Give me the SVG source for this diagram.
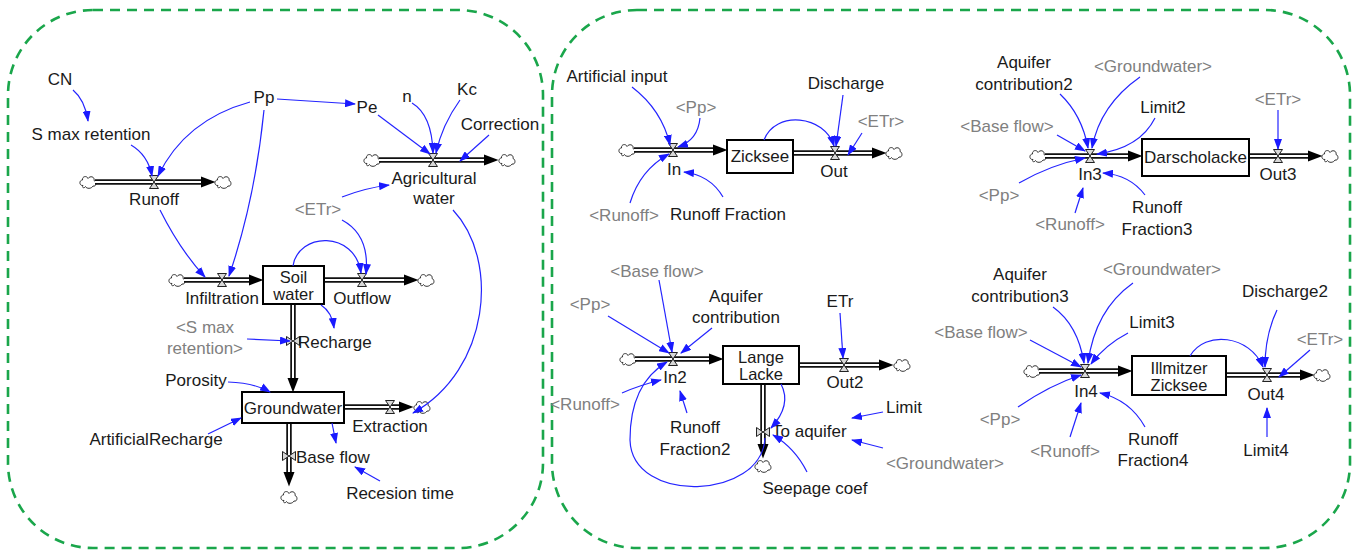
<svg xmlns="http://www.w3.org/2000/svg" xmlns:xlink="http://www.w3.org/1999/xlink" width="1363" height="551" viewBox="0 0 1363 551">
<style>
text{font-family:"Liberation Sans",Arial,sans-serif;font-size:17px;fill:#1a1a1a;text-anchor:middle}
text.g{fill:#808080}
text.s{text-anchor:start}
text.b{font-size:16.5px}
.panel{fill:none;stroke:#1aa64b;stroke-width:2.6;stroke-dasharray:10 7}
.stock{fill:#fff;stroke:#000;stroke-width:2}
.pipe{fill:none;stroke:#111;stroke-width:5.5}
.pin{fill:none;stroke:#fff;stroke-width:2}
.cn{fill:none;stroke:#2424ff;stroke-width:1.2}
</style>
<defs>
<marker id="ah" markerUnits="userSpaceOnUse" markerWidth="11" markerHeight="8" viewBox="0 0 11 8" refX="10" refY="4" orient="auto"><path d="M0,0 L11,4 L0,8 z" fill="#1a1aff"/></marker>
<marker id="fh" markerUnits="userSpaceOnUse" markerWidth="15" markerHeight="12" viewBox="0 -6 15 12" refX="0" refY="0" orient="auto"><path d="M0,-5.5 L14.5,0 L0,5.5 z" fill="#000"/></marker>
<g id="valve"><path d="M-4.5,-6.5 L4.5,-6.5 L0,0 Z M0,0 L-4.5,6.5 L4.5,6.5 Z" fill="#d8d8d8" stroke="#222" stroke-width="1"/></g>
<g id="cloud"><path d="M-5,3.5 C-9,4 -9,-2 -5.5,-2 C-6,-6 -1,-6.5 0,-3.5 C2,-6.5 7,-5.5 6,-1.5 C9,-0.5 8.5,5 5,4 C3.5,7 -1.5,7 -2.5,4.5 C-3.5,6.5 -6.5,6 -5,3.5 Z" fill="#fff" stroke="#333" stroke-width="1"/></g>
</defs>
<rect width="1363" height="551" fill="#fff"/>
<rect class="panel" x="8" y="10" width="535" height="538" rx="85" ry="85"/>
<rect class="panel" x="552" y="10" width="798" height="538" rx="85" ry="85"/>

<!-- Left panel flows -->
<g id="flow-runoff"><use href="#cloud" x="88" y="182"/><path class="pipe" d="M95 182 H201" marker-end="url(#fh)"/><path class="pin" d="M95 182 H201"/><use href="#cloud" x="223" y="182"/><use href="#valve" x="154" y="182"/><text x="154" y="205">Runoff</text></g>
<g id="flow-infiltration"><use href="#cloud" x="177" y="280"/><path class="pipe" d="M184 280 H249" marker-end="url(#fh)"/><path class="pin" d="M184 280 H249"/><use href="#valve" x="222" y="280"/><text x="222" y="304">Infiltration</text></g>
<g id="flow-outflow"><path class="pipe" d="M324 280 H404" marker-end="url(#fh)"/><path class="pin" d="M324 280 H404"/><use href="#cloud" x="426" y="280"/><use href="#valve" x="362" y="280"/><text x="362" y="304">Outflow</text></g>
<g id="flow-agricultural"><use href="#cloud" x="372" y="160"/><path class="pipe" d="M379 160 H484" marker-end="url(#fh)"/><path class="pin" d="M379 160 H484"/><use href="#cloud" x="507" y="160"/><use href="#valve" x="433" y="160"/><text x="434" y="184">Agricultural<tspan x="434" dy="20">water</tspan></text></g>
<g id="flow-recharge"><path class="pipe" d="M293 304 V378" marker-end="url(#fh)"/><path class="pin" d="M293 304 V378"/><use href="#valve" transform="translate(293 341) rotate(90)"/><text class="s" x="298" y="348">Recharge</text></g>
<g id="flow-extraction"><path class="pipe" d="M344 407 H399" marker-end="url(#fh)"/><path class="pin" d="M344 407 H399"/><use href="#cloud" x="422" y="407"/><use href="#valve" x="390" y="407"/><text x="390" y="432">Extraction</text></g>
<g id="flow-baseflow"><path class="pipe" d="M289 423 V472" marker-end="url(#fh)"/><path class="pin" d="M289 423 V472"/><use href="#cloud" x="289" y="497"/><use href="#valve" transform="translate(289 456) rotate(90)"/><text class="s" x="296" y="463">Base flow</text></g>

<g id="stock-soil"><rect class="stock" x="263" y="266" width="61" height="38"/><text class="b" x="293.5" y="283">Soil<tspan x="293.5" dy="16.5">water</tspan></text></g>
<g id="stock-groundwater"><rect class="stock" x="242" y="392" width="102" height="31"/><text x="293" y="414">Groundwater</text></g>

<g id="aux-cn"><text x="60" y="85">CN</text></g>
<g id="aux-smax"><text x="91" y="140">S max retention</text></g>
<g id="aux-pp"><text x="264" y="103">Pp</text></g>
<g id="aux-pe"><text x="367" y="113">Pe</text></g>
<g id="aux-n"><text x="407" y="102">n</text></g>
<g id="aux-kc"><text x="467" y="95">Kc</text></g>
<g id="aux-correction"><text x="500" y="130">Correction</text></g>
<g id="aux-etr-l"><text class="g" x="318" y="215">&lt;ETr&gt;</text></g>
<g id="aux-smax-shadow"><text class="g" x="205" y="333">&lt;S max<tspan x="205" dy="21">retention&gt;</tspan></text></g>
<g id="aux-porosity"><text x="196" y="386">Porosity</text></g>
<g id="aux-artrech"><text x="156" y="445">ArtificialRecharge</text></g>
<g id="aux-recesion"><text x="400" y="499">Recesion time</text></g>

<!-- Right panel: Zicksee -->
<g id="flow-in"><use href="#cloud" x="627" y="150"/><path class="pipe" d="M634 150 H713" marker-end="url(#fh)"/><path class="pin" d="M634 150 H713"/><use href="#valve" x="673" y="150"/><text x="674" y="175">In</text></g>
<g id="flow-out"><path class="pipe" d="M793 153 H872" marker-end="url(#fh)"/><path class="pin" d="M793 153 H872"/><use href="#cloud" x="894" y="153"/><use href="#valve" x="835" y="153"/><text x="834" y="177">Out</text></g>
<g id="stock-zicksee"><rect class="stock" x="727" y="140" width="66" height="33"/><text x="760" y="162">Zicksee</text></g>
<g id="aux-artinput"><text x="617" y="82">Artificial input</text></g>
<g id="aux-pp-1"><text class="g" x="696" y="113">&lt;Pp&gt;</text></g>
<g id="aux-discharge"><text x="846" y="89">Discharge</text></g>
<g id="aux-etr-1"><text class="g" x="881" y="127">&lt;ETr&gt;</text></g>
<g id="aux-runoff-1"><text class="g" x="624" y="221">&lt;Runoff&gt;</text></g>
<g id="aux-rf"><text x="728" y="220">Runoff Fraction</text></g>

<!-- Darscholacke -->
<g id="flow-in3"><use href="#cloud" x="1038" y="156"/><path class="pipe" d="M1045 156 H1128" marker-end="url(#fh)"/><path class="pin" d="M1045 156 H1128"/><use href="#valve" x="1090" y="156"/><text x="1090" y="180">In3</text></g>
<g id="flow-out3"><path class="pipe" d="M1249 156 H1308" marker-end="url(#fh)"/><path class="pin" d="M1249 156 H1308"/><use href="#cloud" x="1330" y="156"/><use href="#valve" x="1278" y="156"/><text x="1278" y="180">Out3</text></g>
<g id="stock-darscholacke"><rect class="stock" x="1142" y="139" width="107" height="37"/><text x="1195.5" y="163">Darscholacke</text></g>
<g id="aux-aq2"><text x="1024" y="68">Aquifer<tspan x="1024" dy="22">contribution2</tspan></text></g>
<g id="aux-gw-2"><text class="g" x="1153" y="72">&lt;Groundwater&gt;</text></g>
<g id="aux-limit2"><text x="1163" y="113">Limit2</text></g>
<g id="aux-etr-2"><text class="g" x="1278" y="105">&lt;ETr&gt;</text></g>
<g id="aux-bf-2"><text class="g" x="1007" y="132">&lt;Base flow&gt;</text></g>
<g id="aux-pp-2"><text class="g" x="999" y="201">&lt;Pp&gt;</text></g>
<g id="aux-runoff-2"><text class="g" x="1070" y="230">&lt;Runoff&gt;</text></g>
<g id="aux-rf3"><text x="1157" y="213">Runoff<tspan x="1157" dy="22">Fraction3</tspan></text></g>

<!-- Lange Lacke -->
<g id="flow-in2"><use href="#cloud" x="628" y="359"/><path class="pipe" d="M635 359 H709" marker-end="url(#fh)"/><path class="pin" d="M635 359 H709"/><use href="#valve" x="673" y="359"/><text x="675" y="383">In2</text></g>
<g id="flow-out2"><path class="pipe" d="M799 365 H879" marker-end="url(#fh)"/><path class="pin" d="M799 365 H879"/><use href="#cloud" x="902" y="365"/><use href="#valve" x="844" y="365"/><text x="845" y="388">Out2</text></g>
<g id="flow-toaquifer"><path class="pipe" d="M763 384 V444" marker-end="url(#fh)"/><path class="pin" d="M763 384 V444"/><use href="#cloud" x="763" y="466"/><use href="#valve" transform="translate(763 432) rotate(90)"/><text class="s" x="772" y="437">To aquifer</text></g>
<g id="stock-langelacke"><rect class="stock" x="723" y="346" width="76" height="38"/><text class="b" x="761" y="363">Lange<tspan x="761" dy="16.5">Lacke</tspan></text></g>
<g id="aux-bf-3"><text class="g" x="657" y="277">&lt;Base flow&gt;</text></g>
<g id="aux-pp-3"><text class="g" x="590" y="310">&lt;Pp&gt;</text></g>
<g id="aux-aq1"><text x="736" y="302">Aquifer<tspan x="736" dy="21">contribution</tspan></text></g>
<g id="aux-etr"><text x="840" y="307">ETr</text></g>
<g id="aux-runoff-3"><text class="g" x="585" y="410">&lt;Runoff&gt;</text></g>
<g id="aux-rf2"><text x="695" y="433">Runoff<tspan x="695" dy="22">Fraction2</tspan></text></g>
<g id="aux-limit"><text x="904" y="413">Limit</text></g>
<g id="aux-gw-3"><text class="g" x="945" y="469">&lt;Groundwater&gt;</text></g>
<g id="aux-seepage"><text x="815" y="494">Seepage coef</text></g>

<!-- Illmitzer Zicksee -->
<g id="flow-in4"><use href="#cloud" x="1032" y="371"/><path class="pipe" d="M1039 371 H1118" marker-end="url(#fh)"/><path class="pin" d="M1039 371 H1118"/><use href="#valve" x="1085" y="371"/><text x="1086" y="397">In4</text></g>
<g id="flow-out4"><path class="pipe" d="M1226 375 H1300" marker-end="url(#fh)"/><path class="pin" d="M1226 375 H1300"/><use href="#cloud" x="1322" y="375"/><use href="#valve" x="1267" y="375"/><text x="1266" y="400">Out4</text></g>
<g id="stock-illmitzer"><rect class="stock" x="1132" y="356" width="94" height="39" stroke-width="2.4"/><text class="b" x="1179" y="374">Illmitzer<tspan x="1179" dy="16.5">Zicksee</tspan></text></g>
<g id="aux-aq3"><text x="1020" y="280">Aquifer<tspan x="1020" dy="22">contribution3</tspan></text></g>
<g id="aux-gw-4"><text class="g" x="1162" y="275">&lt;Groundwater&gt;</text></g>
<g id="aux-limit3"><text x="1152" y="328">Limit3</text></g>
<g id="aux-bf-4"><text class="g" x="981" y="338">&lt;Base flow&gt;</text></g>
<g id="aux-discharge2"><text x="1285" y="297">Discharge2</text></g>
<g id="aux-etr-4"><text class="g" x="1320" y="345">&lt;ETr&gt;</text></g>
<g id="aux-pp-4"><text class="g" x="1000" y="425">&lt;Pp&gt;</text></g>
<g id="aux-runoff-4"><text class="g" x="1065" y="457">&lt;Runoff&gt;</text></g>
<g id="aux-rf4"><text x="1153" y="445">Runoff<tspan x="1153" dy="21">Fraction4</tspan></text></g>
<g id="aux-limit4"><text x="1266" y="456">Limit4</text></g>

<g id="connectors" class="cn" marker-end="url(#ah)">
<path class="cn" d="M73 90 Q85 100 88 121"/>
<path class="cn" d="M131 145 Q148 155 152 176"/>
<path class="cn" d="M250 102 Q185 120 158 176"/>
<path class="cn" d="M277 99 L355 104"/>
<path class="cn" d="M264 110 Q255 200 229 276"/>
<path class="cn" d="M160 210 Q180 250 205 277"/>
<path class="cn" d="M378 115 L430 154"/>
<path class="cn" d="M412 103 Q432 115 433 153"/>
<path class="cn" d="M460 100 Q442 125 436 153"/>
<path class="cn" d="M489 135 L460 161"/>
<path class="cn" d="M342 197 Q365 188 389 185"/>
<path class="cn" d="M342 220 Q370 235 366 274"/>
<path class="cn" d="M293 266 C298 232 355 230 361 273"/>
<path class="cn" d="M453 210 C500 260 490 370 413 413"/>
<path class="cn" d="M247 339 L290 341"/>
<path class="cn" d="M321 305 Q332 312 334 328"/>
<path class="cn" d="M228 382 Q255 383 270 392"/>
<path class="cn" d="M208 434 L241 418"/>
<path class="cn" d="M332 423 L336 443"/>
<path class="cn" d="M380 481 L355 467"/>

<path class="cn" d="M632 87 Q662 110 670 145"/>
<path class="cn" d="M700 118 Q698 140 678 147"/>
<path class="cn" d="M630 203 Q640 170 669 154"/>
<path class="cn" d="M723 197 Q710 175 684 172"/>
<path class="cn" d="M764 140 C775 110 825 115 834 146"/>
<path class="cn" d="M843 95 L836 146"/>
<path class="cn" d="M862 133 L848 155"/>

<path class="cn" d="M1060 94 Q1082 115 1088 148"/>
<path class="cn" d="M1140 77 Q1100 105 1092 148"/>
<path class="cn" d="M1155 118 Q1140 148 1097 154"/>
<path class="cn" d="M1057 135 L1085 151"/>
<path class="cn" d="M1019 183 Q1050 165 1085 158"/>
<path class="cn" d="M1075 213 L1083 188"/>
<path class="cn" d="M1145 195 Q1130 175 1103 173"/>
<path class="cn" d="M1278 110 L1278 149"/>

<path class="cn" d="M659 280 L672 352"/>
<path class="cn" d="M608 316 L669 353"/>
<path class="cn" d="M712 328 L681 353"/>
<path class="cn" d="M622 393 Q640 385 661 380"/>
<path class="cn" d="M687 413 L680 391"/>
<path class="cn" d="M840 313 L843 358"/>
<path class="cn" d="M781 384 Q792 405 771 428"/>
<path class="cn" d="M883 412 L852 418"/>
<path class="cn" d="M883 448 L852 440"/>
<path class="cn" d="M807 472 Q795 448 773 435"/>
<path class="cn" d="M765 438 C762 500 632 505 630 440 C630 400 645 375 667 362"/>

<path class="cn" d="M1053 307 Q1078 325 1084 363"/>
<path class="cn" d="M1133 283 Q1095 310 1088 363"/>
<path class="cn" d="M1128 333 Q1105 345 1091 364"/>
<path class="cn" d="M1030 340 L1081 367"/>
<path class="cn" d="M1018 407 Q1050 385 1081 375"/>
<path class="cn" d="M1070 437 L1081 403"/>
<path class="cn" d="M1145 427 Q1130 400 1100 393"/>
<path class="cn" d="M1190 356 C1205 330 1250 335 1263 367"/>
<path class="cn" d="M1277 310 Q1265 335 1265 367"/>
<path class="cn" d="M1310 350 L1279 377"/>
<path class="cn" d="M1267 437 L1267 408"/>
</g>
</svg>
